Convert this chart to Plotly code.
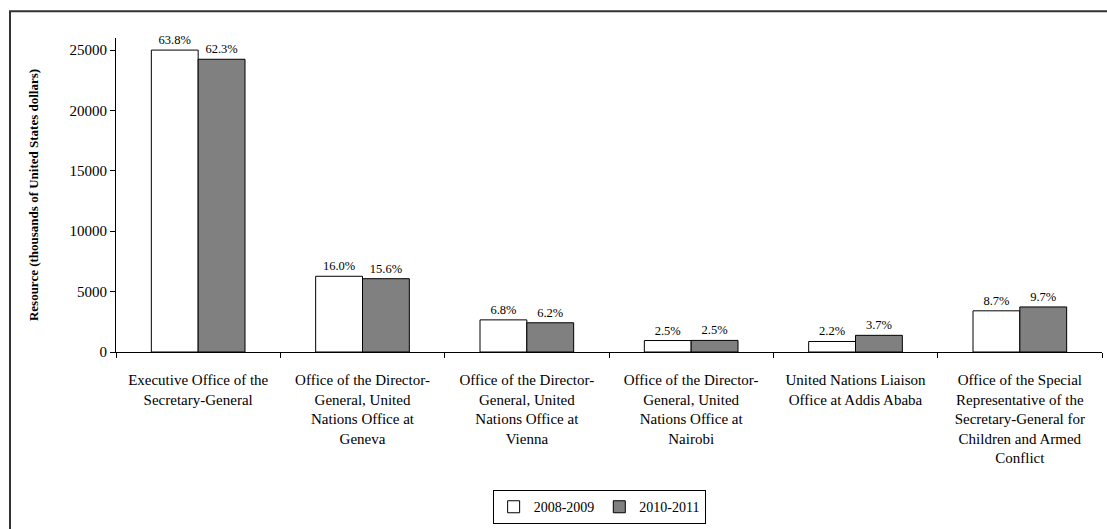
import plotly.graph_objects as go

categories = [
    "Executive Office of the<br>Secretary-General",
    "Office of the Director-<br>General, United<br>Nations Office at<br>Geneva",
    "Office of the Director-<br>General, United<br>Nations Office at<br>Vienna",
    "Office of the Director-<br>General, United<br>Nations Office at<br>Nairobi",
    "United Nations Liaison<br>Office at Addis Ababa",
    "Office of the Special<br>Representative of the<br>Secretary-General for<br>Children and Armed<br>Conflict",
]
values_2008 = [25000, 6270, 2660, 950, 870, 3410]
values_2010 = [24240, 6070, 2420, 960, 1380, 3730]
pct_2008 = ["63.8%", "16.0%", "6.8%", "2.5%", "2.2%", "8.7%"]
pct_2010 = ["62.3%", "15.6%", "6.2%", "2.5%", "3.7%", "9.7%"]
series_names = ["2008-2009", "2010-2011"]
y_ticks = [0, 5000, 10000, 15000, 20000, 25000]

FONT = "Liberation Serif, Times New Roman, serif"

fig = go.Figure()
fig.add_trace(go.Bar(
    x=categories, y=values_2008, name=series_names[0],
    marker=dict(color="white", line=dict(color="black", width=1)),
    text=pct_2008, textposition="outside", cliponaxis=False,
    textfont=dict(family=FONT, size=12.5, color="black"),
))
fig.add_trace(go.Bar(
    x=categories, y=values_2010, name=series_names[1],
    marker=dict(color="#808080", line=dict(color="black", width=1)),
    text=pct_2010, textposition="outside", cliponaxis=False,
    textfont=dict(family=FONT, size=12.5, color="black"),
))

fig.update_layout(
    width=1107, height=529,
    margin=dict(l=116, r=5, t=38, b=172),
    paper_bgcolor="white", plot_bgcolor="white",
    font=dict(family=FONT, size=15, color="black"),
    barmode="group", bargap=0.43, bargroupgap=0,
    showlegend=True,
    legend=dict(
        orientation="h", x=0.49, xanchor="center", y=-0.44, yanchor="top",
        bordercolor="black", borderwidth=1, bgcolor="white",
        font=dict(family=FONT, size=14, color="black"),
        itemwidth=30, tracegroupgap=0,
    ),
    xaxis=dict(
        showline=True, linecolor="black", linewidth=1,
        ticks="outside", tickson="boundaries", ticklen=5, tickcolor="black",
        tickangle=0, showgrid=False, ticklabelstandoff=14,
        tickfont=dict(family=FONT, size=15, color="black"),
    ),
    yaxis=dict(
        range=[0, 26000], tickvals=y_ticks, tickformat="d",
        showline=True, linecolor="black", linewidth=1,
        ticks="outside", ticklen=5, tickcolor="black",
        showgrid=False, zeroline=False,
        tickfont=dict(family=FONT, size=15, color="black"),
        title=dict(text="<b>Resource (thousands of United States dollars)</b>",
                   font=dict(family=FONT, size=13, color="black"), standoff=27),
    ),
    shapes=[dict(type="rect", xref="paper", yref="paper",
                 x0=-0.1075, x1=1.2, y0=-0.6, y1=1.085,
                 line=dict(color="#333333", width=2), layer="below")],
)

fig.write_html("out.html")
